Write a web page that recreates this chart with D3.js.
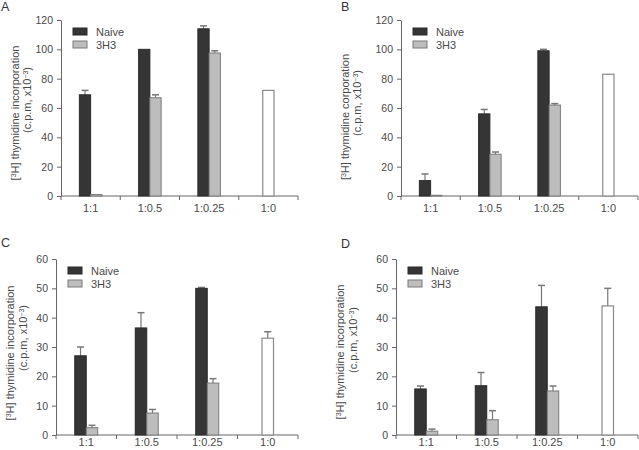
<!DOCTYPE html>
<html><head><meta charset="utf-8">
<script src="https://cdn.jsdelivr.net/npm/d3@7"></script>
<style>body{margin:0;background:#fff}svg{display:block;font-family:"Liberation Sans",Arial,sans-serif}</style>
</head><body><svg id="c" width="639" height="450"></svg>
<script>
const categories = ["1:1","1:0.5","1:0.25","1:0"];
const series = ["Naive","3H3"];
// Panel A
const aNaive = [69, 100, 114];
const aNaiveErr = [72, 100, 116];
const a3H3 = [1, 67, 97.5];
const a3H3Err = [1, 69, 99];
const aCtrl = 72, aCtrlErr = 72;
// Panel B
const bNaive = [10.5, 56, 99];
const bNaiveErr = [15, 59, 100];
const b3H3 = [0.5, 28.5, 62];
const b3H3Err = [0.5, 30, 63];
const bCtrl = 83, bCtrlErr = 83;
// Panel C
const cNaive = [27, 36.5, 50];
const cNaiveErr = [30, 41.7, 50.3];
const c3H3 = [2.5, 7.5, 17.7];
const c3H3Err = [3.3, 8.7, 19.2];
const cCtrl = 33, cCtrlErr = 35.2;
// Panel D
const dNaive = [15.7, 16.8, 43.7];
const dNaiveErr = [16.7, 21.3, 51];
const d3H3 = [1.3, 5.2, 15];
const d3H3Err = [2, 8.3, 16.7];
const dCtrl = 44, dCtrlErr = 50;
const ticksAB = [0,20,40,60,80,100,120];
const ticksCD = [0,10,20,30,40,50,60];

const panels = [
  {letter:"A", lx:1, ly:11, x0:61, x1:298, yT:20, yB:196, max:120, ticks:ticksAB, pad:8,
   naive:aNaive, naiveErr:aNaiveErr, h3:a3H3, h3Err:a3H3Err, ctrl:aCtrl, ctrlErr:aCtrlErr,
   title:"thymidine incorporation", l1x:19, l1y:113, l2x:31, l2y:100},
  {letter:"B", lx:341, ly:11, x0:401, x1:638, yT:20, yB:196, max:120, ticks:ticksAB, pad:8,
   naive:bNaive, naiveErr:bNaiveErr, h3:b3H3, h3Err:b3H3Err, ctrl:bCtrl, ctrlErr:bCtrlErr,
   title:"thymidine corporation", l1x:349, l1y:117, l2x:361, l2y:103},
  {letter:"C", lx:1, ly:247, x0:56, x1:298, yT:259, yB:435, max:60, ticks:ticksCD, pad:3,
   naive:cNaive, naiveErr:cNaiveErr, h3:c3H3, h3Err:c3H3Err, ctrl:cCtrl, ctrlErr:cCtrlErr,
   title:"thymidine incorporation", l1x:14, l1y:353, l2x:27, l2y:338},
  {letter:"D", lx:341, ly:248, x0:396, x1:638, yT:259, yB:435, max:60, ticks:ticksCD, pad:3,
   naive:dNaive, naiveErr:dNaiveErr, h3:d3H3, h3Err:d3H3Err, ctrl:dCtrl, ctrlErr:dCtrlErr,
   title:"thymidine incorporation", l1x:344, l1y:352, l2x:357, l2y:340}
];

const svg = d3.select("#c");
const colNaive = "#353535", colH3 = "#bdbdbd", axisCol = "#666", textCol = "#4a4a4a";

panels.forEach(p => {
  const g = svg.append("g");
  const x = d3.scaleBand().domain(categories).range([p.x0, p.x1]);
  const y = d3.scaleLinear().domain([0, p.max]).range([p.yB, p.yT]);
  const bw = x.bandwidth() * 0.19;

  // Y axis
  const ya = g.append("g").attr("transform", `translate(${p.x0},0)`)
    .call(d3.axisLeft(y).tickValues(p.ticks).tickSize(4).tickSizeOuter(0).tickPadding(4));
  ya.select(".domain").attr("stroke", axisCol);
  ya.selectAll(".tick line").attr("stroke", axisCol);
  ya.selectAll(".tick text").attr("fill", textCol).attr("font-size", 10.5)
    .attr("font-family", "Liberation Sans, Arial, sans-serif");

  // X axis
  const xa = g.append("g").attr("transform", `translate(0,${p.yB})`)
    .call(d3.axisBottom(x).tickSize(0).tickPadding(p.pad));
  xa.select(".domain").attr("stroke", axisCol).attr("d", `M${p.x0},0H${p.x1}`);
  xa.selectAll(".tick text").attr("fill", textCol).attr("font-size", 11)
    .attr("font-family", "Liberation Sans, Arial, sans-serif");
  const bounds = [p.x0, ...categories.slice(1).map(c => x(c)), p.x1];
  xa.selectAll(".bt").data(bounds).enter().append("line").attr("class","bt")
    .attr("x1", d=>d).attr("x2", d=>d).attr("y1", 0).attr("y2", 4).attr("stroke", axisCol);

  const cats3 = categories.slice(0,3);
  const drawErr = (cx, v, e) => {
    if (e - v < 0.2) return;
    g.append("line").attr("x1", cx).attr("x2", cx).attr("y1", y(v)).attr("y2", y(e))
      .attr("stroke", "#777").attr("stroke-width", 1.2);
    g.append("line").attr("x1", cx-3.5).attr("x2", cx+3.5).attr("y1", y(e)).attr("y2", y(e))
      .attr("stroke", "#777").attr("stroke-width", 1.5);
  };
  cats3.forEach((c,i) => {
    const cx = x(c) + x.bandwidth()/2;
    drawErr(cx - bw/2, p.naive[i], p.naiveErr[i]);
    drawErr(cx + bw/2, p.h3[i], p.h3Err[i]);
  });
  const cxCtrl = x(categories[3]) + x.bandwidth()/2;
  drawErr(cxCtrl, p.ctrl, p.ctrlErr);

  cats3.forEach((c,i) => {
    const cx = x(c) + x.bandwidth()/2;
    g.append("rect").attr("x", cx - bw).attr("width", bw)
      .attr("y", y(p.naive[i])).attr("height", p.yB - y(p.naive[i]))
      .attr("fill", colNaive).attr("stroke", "#2a2a2a").attr("stroke-width", 1);
    g.append("rect").attr("x", cx).attr("width", bw)
      .attr("y", y(p.h3[i])).attr("height", p.yB - y(p.h3[i]))
      .attr("fill", colH3).attr("stroke", "#7a7a7a").attr("stroke-width", 1);
  });
  g.append("rect").attr("x", cxCtrl - bw/2).attr("width", bw)
    .attr("y", y(p.ctrl)).attr("height", p.yB - y(p.ctrl))
    .attr("fill", "#fff").attr("stroke", "#8a8a8a").attr("stroke-width", 1.2);

  // Legend
  const lx = p.x0 + 12, ly = p.yT + 8;
  series.forEach((s,i) => {
    g.append("rect").attr("x", lx).attr("y", ly + i*13).attr("width", 14).attr("height", 7)
      .attr("fill", i===0 ? colNaive : colH3).attr("stroke", i===0 ? "#2a2a2a" : "#7a7a7a");
    g.append("text").attr("x", lx + 23).attr("y", ly + i*13 + 8)
      .attr("font-size", 11).attr("fill", textCol).text(s);
  });

  // Panel letter
  g.append("text").attr("x", p.lx).attr("y", p.ly).attr("font-size", 12.5)
    .attr("fill", "#333").text(p.letter);

  // Y title
  const t1 = g.append("text").attr("transform", `translate(${p.l1x},${p.l1y}) rotate(-90)`)
    .attr("text-anchor", "middle").attr("font-size", 11).attr("fill", textCol);
  t1.append("tspan").text("[");
  t1.append("tspan").attr("baseline-shift", "super").attr("font-size", 7).text("3");
  t1.append("tspan").text("H] " + p.title);
  const t2 = g.append("text").attr("transform", `translate(${p.l2x},${p.l2y}) rotate(-90)`)
    .attr("text-anchor", "middle").attr("font-size", 11).attr("fill", textCol);
  t2.append("tspan").text("(c.p.m, x10");
  t2.append("tspan").attr("baseline-shift", "super").attr("font-size", 7).text("−3");
  t2.append("tspan").text(")");
});
</script></body></html>
